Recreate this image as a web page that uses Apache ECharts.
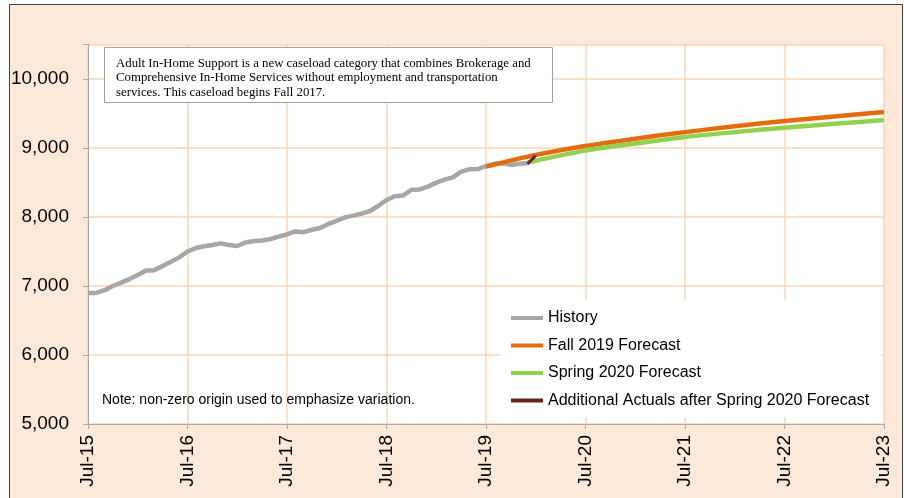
<!DOCTYPE html>
<html>
<head>
<meta charset="utf-8">
<script src="https://cdn.jsdelivr.net/npm/echarts@6/dist/echarts.min.js"></script>
<style>
html, body { margin: 0; padding: 0; background: #fff; }
.chart { width: 904px; height: 498px; }
</style>
</head>
<body>
<div class="chart"></div>
<script>
// months counted from Jul-15 (0 = Jul-15)
var yearLabels = ['Jul-15', 'Jul-16', 'Jul-17', 'Jul-18', 'Jul-19', 'Jul-20', 'Jul-21', 'Jul-22', 'Jul-23'];
var yTicks = [5000, 6000, 7000, 8000, 9000, 10000];

// History, monthly from Jul-15
var historyValues = [6900, 6900, 6940, 7000, 7048, 7100, 7160, 7225, 7230, 7290,
	7350, 7415, 7500, 7550, 7575, 7595, 7618, 7594, 7580, 7630,
	7652, 7660, 7681, 7715, 7749, 7790, 7780, 7815, 7840, 7900,
	7945, 7995, 8020, 8050, 8087, 8159, 8246, 8300, 8310, 8395,
	8400, 8440, 8498, 8541, 8575, 8657, 8691, 8695, 8739, 8770,
	8778, 8755, 8770, 8778];

var fallMonths = [48, 54, 60, 66, 72, 78, 84, 90, 96];
var fallValues = [8730, 8900, 9030, 9135, 9230, 9315, 9390, 9458, 9522];

var springMonths = [53, 60, 66, 72, 78, 84, 90, 96];
var springValues = [8790, 8962, 9065, 9160, 9230, 9295, 9350, 9406];

var extraMonths = [53, 54];
var extraValues = [8770, 8890];

var noteText = 'Adult In-Home Support is a new caseload category that combines Brokerage and\nComprehensive In-Home Services without employment and transportation\nservices. This caseload begins Fall 2017.';

function pairs(xs, ys) { //拼成 [x, y]
	return xs.map(function(x, i) { return [x, ys[i]]; });
}

(function() {
	var myChart = echarts.init(document.querySelector('.chart'));
	var font = '"Liberation Sans", Arial, sans-serif';
	var gridColor = '#fcd5b5';
	var axisColor = '#a6a6a6';
	let option = {
		backgroundColor: '#fff',
		animation: false,
		grid: {
			left: 88,
			right: 20,
			top: 44.5,
			bottom: 74,
			show: true,
			backgroundColor: '#fff',
			borderWidth: 0
		},
		xAxis: {
			type: 'value',
			min: 0,
			max: 96,
			interval: 12,
			axisLine: { show: true, lineStyle: { color: axisColor, width: 1 } },
			axisTick: { show: true, length: 5, lineStyle: { color: axisColor } },
			splitLine: { show: true, lineStyle: { color: gridColor, width: 1.5 } },
			axisLabel: {
				rotate: 90,
				margin: 11,
				color: '#000',
				fontSize: 19,
				fontFamily: font,
				showMaxLabel: true,
				formatter: function(v) {
					return v % 12 === 0 ? yearLabels[v / 12] : '';
				}
			}
		},
		yAxis: {
			type: 'value',
			min: 5000,
			max: 10500,
			interval: 1000,
			axisLine: { show: true, lineStyle: { color: axisColor, width: 1 } },
			axisTick: { show: true, length: 5, lineStyle: { color: axisColor } },
			splitLine: { show: true, lineStyle: { color: gridColor, width: 1.5 } },
			axisLabel: {
				margin: 19,
				color: '#000',
				fontSize: 19,
				fontFamily: font,
				formatter: function(v) {
					return yTicks.indexOf(v) >= 0 ? v.toLocaleString('en-US') : '';
				}
			}
		},
		legend: {
			orient: 'vertical',
			left: 500,
			top: 300,
			padding: [9, 12, 8, 11],
			backgroundColor: '#fff',
			itemWidth: 32,
			itemHeight: 4,
			itemGap: 9.5,
			textStyle: { color: '#000', fontSize: 16, fontFamily: font, lineHeight: 18 },
			data: [
				{ name: 'History', icon: 'rect' },
				{ name: 'Fall 2019 Forecast', icon: 'rect' },
				{ name: 'Spring 2020 Forecast', icon: 'rect' },
				{ name: 'Additional Actuals after Spring 2020 Forecast', icon: 'rect' }
			]
		},
		graphic: [
			{ //外框
				type: 'rect',
				z: -10,
				shape: { x: 9.5, y: 4.5, width: 893, height: 500 },
				style: { fill: '#fde9d9', stroke: '#404040', lineWidth: 1 }
			},
			{ //说明框
				type: 'rect',
				z: 100,
				shape: { x: 104.5, y: 47.5, width: 448, height: 55 },
				style: { fill: '#fff', stroke: '#a0a0a0', lineWidth: 1 }
			},
			{
				type: 'text',
				z: 101,
				x: 116,
				y: 56,
				style: {
					text: noteText,
					fill: '#000',
					font: '12.8px "Liberation Serif", "Times New Roman", serif',
					lineHeight: 14.5
				}
			},
			{
				type: 'text',
				z: 100,
				x: 102,
				y: 393,
				style: {
					text: 'Note: non-zero origin used to emphasize variation.',
					fill: '#000',
					font: '14px ' + font
				}
			}
		],
		series: [
			{
				name: 'History',
				type: 'line',
				showSymbol: false,
				data: historyValues.map(function(v, i) { return [i, v]; }),
				lineStyle: { color: '#a6a6a6', width: 4.5 },
				itemStyle: { color: '#a6a6a6' }
			},
			{
				name: 'Fall 2019 Forecast',
				type: 'line',
				smooth: 0.3,
				showSymbol: false,
				data: pairs(fallMonths, fallValues),
				lineStyle: { color: '#e46c0a', width: 4.5 },
				itemStyle: { color: '#e46c0a' }
			},
			{
				name: 'Spring 2020 Forecast',
				type: 'line',
				smooth: 0.3,
				showSymbol: false,
				data: pairs(springMonths, springValues),
				lineStyle: { color: '#92d050', width: 4.5 },
				itemStyle: { color: '#92d050' }
			},
			{
				name: 'Additional Actuals after Spring 2020 Forecast',
				type: 'line',
				showSymbol: false,
				data: pairs(extraMonths, extraValues),
				lineStyle: { color: '#632523', width: 3 },
				itemStyle: { color: '#632523' }
			}
		]
	};
	myChart.setOption(option);
	window.addEventListener("resize", function() {
		myChart.resize();
	})
})();
</script>
</body>
</html>
